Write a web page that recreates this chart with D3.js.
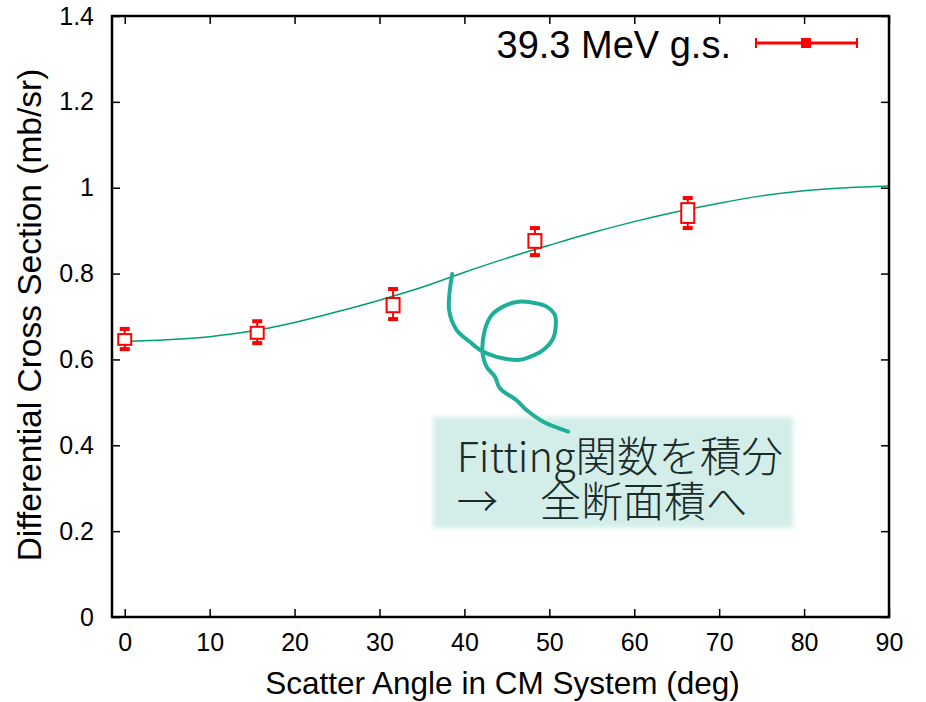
<!DOCTYPE html>
<html lang="ja">
<head>
<meta charset="UTF-8">
<script src="https://cdn.jsdelivr.net/npm/d3@7"></script>
<style>
  body { margin: 0; background: #fff; }
  text { font-family: "Liberation Sans", Arial, sans-serif; fill: #000; }
  .note text { font-family: "Noto Sans CJK JP", sans-serif; fill: #1a2b2a; }
</style>
</head>
<body>
<div id="chart"></div>
<script>
// measured points (angle in deg, cross section in mb/sr)
const angles = [0, 15.6, 31.6, 48.3, 66.3];
const values = [0.646, 0.662, 0.727, 0.876, 0.941];
const boxLo  = [0.634, 0.648, 0.710, 0.860, 0.918];
const boxHi  = [0.659, 0.676, 0.743, 0.892, 0.964];
const errLo  = [0.624, 0.638, 0.694, 0.843, 0.906];
const errHi  = [0.671, 0.689, 0.764, 0.906, 0.976];

// fitting curve
const fitAngles = [0, 5, 10, 15, 20, 25, 30, 35, 40, 45, 50, 55, 60, 65, 70, 75, 80, 85, 90];
const fitValues = [0.642, 0.646, 0.653, 0.666, 0.686, 0.711, 0.738, 0.768, 0.803, 0.836, 0.866, 0.895, 0.921, 0.944, 0.964, 0.981, 0.993, 1.000, 1.004];

const xTicks = [0, 10, 20, 30, 40, 50, 60, 70, 80, 90];
const yTicks = [0, 0.2, 0.4, 0.6, 0.8, 1, 1.2, 1.4];

// hand drawn arrow of the annotation, in data units
const strokeX = [38.56, 38.2, 39.07, 40.64, 42.02, 43.79, 46.53, 47.71, 49.28, 50.45, 50.77, 50.66, 49.68, 48.1, 46.14, 44.56, 43.2, 42.41, 42.14, 42.61, 43.59, 44.17, 46.14, 47.32, 49.28, 52.22];
const strokeY = [0.799, 0.715, 0.669, 0.641, 0.62, 0.606, 0.599, 0.606, 0.622, 0.649, 0.684, 0.703, 0.723, 0.732, 0.734, 0.723, 0.703, 0.669, 0.614, 0.583, 0.56, 0.533, 0.505, 0.482, 0.455, 0.432];
const noteLines = ["Fitting関数を積分", "→\u3000全断面積へ"];

var width = 926, height = 702;
var margin = {top: 16, right: 37, bottom: 85, left: 112};
var w = width - margin.left - margin.right,
    h = height - margin.top - margin.bottom;

var svg = d3.select("#chart").append("svg")
    .attr("width", width).attr("height", height);

var defs = svg.append("defs");
defs.append("filter").attr("id", "soft")
    .attr("x", "-10%").attr("y", "-10%").attr("width", "120%").attr("height", "120%")
  .append("feGaussianBlur").attr("stdDeviation", 2.5);

var x = d3.scaleLinear().domain([-1.5, 90]).range([0, w]);
var y = d3.scaleLinear().domain([0, 1.4]).range([h, 0]);

var g = svg.append("g")
    .attr("transform", "translate(" + margin.left + "," + margin.top + ")");

// ticks, inward on all four sides
var tl = 8;
g.append("g").attr("transform", "translate(0," + h + ")")
    .call(d3.axisBottom(x).tickValues(xTicks).tickSizeInner(-tl).tickSizeOuter(0).tickPadding(16).tickFormat(d3.format("d")))
    .call(a => a.select(".domain").remove())
    .call(a => a.selectAll("text").attr("font-size", 25).attr("fill", "#000"))
    .call(a => a.selectAll("line").attr("stroke", "#000").attr("stroke-width", 1.5));
g.append("g")
    .call(d3.axisTop(x).tickValues(xTicks).tickSizeInner(-tl).tickSizeOuter(0).tickFormat(""))
    .call(a => a.select(".domain").remove())
    .call(a => a.selectAll("line").attr("stroke", "#000").attr("stroke-width", 1.5));
g.append("g")
    .call(d3.axisLeft(y).tickValues(yTicks).tickSizeInner(-tl).tickSizeOuter(0).tickPadding(18).tickFormat(d3.format("~g")))
    .call(a => a.select(".domain").remove())
    .call(a => a.selectAll("text").attr("font-size", 25).attr("fill", "#000"))
    .call(a => a.selectAll("line").attr("stroke", "#000").attr("stroke-width", 1.5));
g.append("g").attr("transform", "translate(" + w + ",0)")
    .call(d3.axisRight(y).tickValues(yTicks).tickSizeInner(-tl).tickSizeOuter(0).tickFormat(""))
    .call(a => a.select(".domain").remove())
    .call(a => a.selectAll("line").attr("stroke", "#000").attr("stroke-width", 1.5));

// fit curve
var fit = fitAngles.map((a, i) => [a, fitValues[i]]);
g.append("path").datum(fit)
    .attr("fill", "none").attr("stroke", "#009e73").attr("stroke-width", 1.5)
    .attr("d", d3.line().x(d => x(d[0])).y(d => y(d[1])).curve(d3.curveMonotoneX));

// data points with error bars
var pts = angles.map((a, i) => ({a: a, v: values[i], bl: boxLo[i], bh: boxHi[i], el: errLo[i], eh: errHi[i]}));
var red = "#ff0000";
var bw = 13, cw = 10;
var pg = g.selectAll(".pt").data(pts).enter().append("g").attr("class", "pt");
pg.append("line")
    .attr("x1", d => x(d.a)).attr("x2", d => x(d.a))
    .attr("y1", d => y(d.eh)).attr("y2", d => y(d.el))
    .attr("stroke", red).attr("stroke-width", 2);
pg.append("rect")
    .attr("x", d => x(d.a) - cw / 2).attr("width", cw)
    .attr("y", d => y(d.eh) - 2).attr("height", 4).attr("fill", red);
pg.append("rect")
    .attr("x", d => x(d.a) - cw / 2).attr("width", cw)
    .attr("y", d => y(d.el) - 2).attr("height", 4).attr("fill", red);
pg.append("rect")
    .attr("x", d => x(d.a) - bw / 2).attr("width", bw)
    .attr("y", d => y(d.bh)).attr("height", d => y(d.bl) - y(d.bh))
    .attr("fill", "#fff").attr("stroke", red).attr("stroke-width", 2);

// frame
g.append("rect").attr("width", w).attr("height", h)
    .attr("fill", "none").attr("stroke", "#000").attr("stroke-width", 2.5);

// legend
var lg = svg.append("g").attr("transform", "translate(0,43)");
lg.append("text").attr("x", 731).attr("y", 15).attr("text-anchor", "end")
    .attr("font-size", 38).text("39.3 MeV g.s.");
lg.append("line").attr("x1", 756).attr("x2", 857).attr("stroke", red).attr("stroke-width", 3);
lg.append("line").attr("x1", 756).attr("x2", 756).attr("y1", -5).attr("y2", 5).attr("stroke", red).attr("stroke-width", 2);
lg.append("line").attr("x1", 857).attr("x2", 857).attr("y1", -5).attr("y2", 5).attr("stroke", red).attr("stroke-width", 2);
lg.append("rect").attr("x", 801).attr("y", -5).attr("width", 10).attr("height", 10).attr("fill", red);

// axis titles
svg.append("text").attr("x", margin.left + w / 2 + 2).attr("y", 694)
    .attr("text-anchor", "middle").attr("font-size", 31.5)
    .text("Scatter Angle in CM System (deg)");
svg.append("text").attr("transform", "translate(41,315) rotate(-90)")
    .attr("text-anchor", "middle").attr("font-size", 33.5)
    .text("Differential Cross Section (mb/sr)");

// annotation
var note = g.append("g").attr("class", "note");
note.append("rect")
    .attr("x", x(36.3)).attr("y", y(0.466))
    .attr("width", x(78.7) - x(36.3)).attr("height", y(0.207) - y(0.466))
    .attr("fill", "#d3eee9").attr("filter", "url(#soft)");
var stroke = strokeX.map((s, i) => [s, strokeY[i]]);
note.append("path").datum(stroke)
    .attr("fill", "none").attr("stroke", "#1fae98").attr("stroke-width", 4)
    .attr("stroke-linecap", "round").attr("stroke-linejoin", "round")
    .attr("d", d3.line().x(d => x(d[0])).y(d => y(d[1])).curve(d3.curveCatmullRom));
var nt = note.append("text")
    .attr("font-size", 41.5).attr("font-weight", 300);
nt.selectAll("tspan").data(noteLines).enter().append("tspan")
    .attr("x", x(39.1))
    .attr("y", (d, i) => y(i === 0 ? 0.338 : 0.233))
    .text(d => d);
</script>
</body>
</html>
